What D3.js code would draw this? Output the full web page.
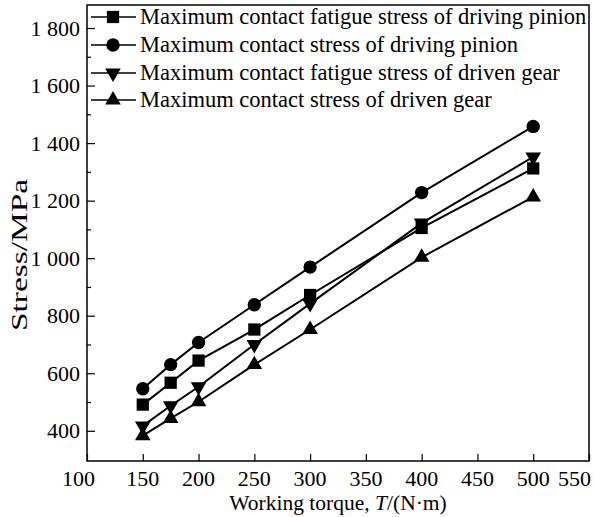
<!DOCTYPE html>
<html>
<head>
<meta charset="utf-8">
<script src="https://cdn.jsdelivr.net/npm/d3@7"></script>
<style>
  body { margin: 0; background: #fff; }
  text { font-family: "Liberation Serif", "Times New Roman", serif; fill: #000; }
</style>
</head>
<body>
<svg></svg>
<script>
/* data */
let torque = [150, 175, 200, 250, 300, 400, 500];
let fatiguePinion = [491, 567, 644, 752, 872, 1105, 1312];
let contactPinion = [546, 630, 707, 838, 969, 1228, 1458];
let fatigueGear = [417, 487, 553, 700, 842, 1122, 1352];
let contactGear = [383, 443, 501, 630, 752, 1003, 1213];
let seriesNames = [
    "Maximum contact fatigue stress of driving pinion",
    "Maximum contact stress of driving pinion",
    "Maximum contact fatigue stress of driven gear",
    "Maximum contact stress of driven gear"
];
let xTicks = [100, 150, 200, 250, 300, 350, 400, 450, 500, 550];
let yTicks = [400, 600, 800, 1000, 1200, 1400, 1600, 1800];
let yMinor = [500, 700, 900, 1100, 1300, 1500, 1700];

/* basic setup */
let svgWidth = 595;
let svgHeight = 517;
const svg = d3.select("svg")
    .attr("width", svgWidth)
    .attr("height", svgHeight);

let plotLeft = 87, plotRight = 589, plotTop = 5, plotBottom = 461;

let x = d3.scaleLinear().domain([100, 550]).range([plotLeft, plotRight]);
let y = d3.scaleLinear().domain([295, 1880]).range([plotBottom, plotTop]);

const fmt = d3.formatLocale({decimal: ".", thousands: " ", grouping: [3], currency: ["", ""]}).format(",d");

// frame
svg.append("rect")
    .attr("x", plotLeft).attr("y", plotTop)
    .attr("width", plotRight - plotLeft).attr("height", plotBottom - plotTop)
    .attr("fill", "none").attr("stroke", "#000").attr("stroke-width", 1.5);

// x axis, ticks pointing inward
let xAxis = svg.append("g").attr("transform", "translate(0," + plotBottom + ")")
    .call(d3.axisBottom(x).tickValues(xTicks).tickSizeInner(-7).tickSizeOuter(0).tickPadding(0).tickFormat(""));
xAxis.select(".domain").remove();
xAxis.selectAll("line").attr("stroke-width", 1.2);

svg.append("g").selectAll("text")
    .data(xTicks)
    .enter()
    .append("text")
    .attr("x", function(d) {
        if (d == 100) return 95;
        if (d == 550) return 591;
        return x(d);
    })
    .attr("y", 486)
    .attr("text-anchor", function(d) {
        if (d == 100 || d == 550) return "end";
        return "middle";
    })
    .style("font-size", "22px")
    .text(function(d) { return d; });

// y axis
let yAxis = svg.append("g").attr("transform", "translate(" + plotLeft + ",0)")
    .call(d3.axisLeft(y).tickValues(yTicks).tickSizeInner(-8).tickSizeOuter(0).tickPadding(10).tickFormat(fmt));
yAxis.select(".domain").remove();
yAxis.selectAll("line").attr("stroke-width", 1.2);
yAxis.selectAll("text")
    .attr("x", -7)
    .style("font-size", "22px")
    .style("font-family", "Liberation Serif");

let yAxisMinor = svg.append("g").attr("transform", "translate(" + plotLeft + ",0)")
    .call(d3.axisLeft(y).tickValues(yMinor).tickSizeInner(-4).tickSizeOuter(0).tickFormat(""));
yAxisMinor.select(".domain").remove();
yAxisMinor.selectAll("line").attr("stroke-width", 1.2);

// axis titles
svg.append("text")
    .attr("transform", "translate(27,255) rotate(-90)")
    .attr("text-anchor", "middle")
    .attr("textLength", 152)
    .attr("lengthAdjust", "spacingAndGlyphs")
    .style("font-size", "24px")
    .text("Stress/MPa");

let xTitle = svg.append("text")
    .attr("x", (plotLeft + plotRight) / 2)
    .attr("y", 510)
    .attr("text-anchor", "middle")
    .style("font-size", "21.5px");
xTitle.append("tspan").text("Working torque, ");
xTitle.append("tspan").style("font-style", "italic").text("T");
xTitle.append("tspan").text("/(N\u00b7m)");

/* series */
let allSeries = [fatiguePinion, contactPinion, fatigueGear, contactGear];
let shapes = [
    {type: d3.symbolSquare, size: 150, rot: 0},
    {type: d3.symbolCircle, size: 140, rot: 0},
    {type: d3.symbolTriangle, size: 105, rot: 180},
    {type: d3.symbolTriangle, size: 105, rot: 0}
];

let line = d3.line()
    .x(function(d, i) { return x(torque[i]); })
    .y(function(d) { return y(d); });

allSeries.forEach(function(values, k) {
    svg.append("path")
        .datum(values)
        .attr("d", line)
        .attr("fill", "none")
        .attr("stroke", "#000")
        .attr("stroke-width", 2);

    svg.append("g").selectAll("path")
        .data(values)
        .enter()
        .append("path")
        .attr("d", d3.symbol().type(shapes[k].type).size(shapes[k].size))
        .attr("transform", function(d, i) {
            return "translate(" + x(torque[i]) + "," + y(d) + ") rotate(" + shapes[k].rot + ")";
        })
        .attr("fill", "#000");
});

/* legend */
let legendRows = [17, 45, 73, 100];
let legend = svg.append("g").selectAll("g")
    .data(seriesNames)
    .enter()
    .append("g")
    .attr("transform", function(d, i) { return "translate(0," + legendRows[i] + ")"; });

legend.append("line")
    .attr("x1", 91).attr("x2", 136)
    .attr("stroke", "#000").attr("stroke-width", 1.5);

legend.append("path")
    .attr("d", function(d, i) { return d3.symbol().type(shapes[i].type).size(shapes[i].size)(); })
    .attr("transform", function(d, i) { return "translate(113,0) rotate(" + shapes[i].rot + ")"; })
    .attr("fill", "#000");

legend.append("text")
    .attr("x", 140)
    .attr("y", 7)
    .style("font-size", "22.5px")
    .text(function(d) { return d; });
</script>
</body>
</html>
